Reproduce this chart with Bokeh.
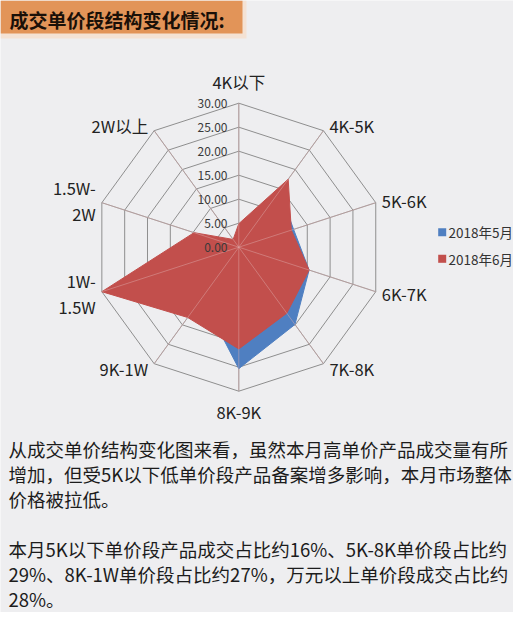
import numpy as np
from bokeh.plotting import figure
from bokeh.models import Range1d
from bokeh.core.properties import value
from bokeh.embed import file_html
from bokeh.resources import INLINE

# data
categories = ["4K以下", "4K-5K", "5K-6K", "6K-7K", "7K-8K",
              "8K-9K", "9K-1W", "1W-1.5W", "1.5W-2W", "2W以上"]
cat_labels = ["4K以下", "4K-5K", "5K-6K", "6K-7K", "7K-8K",
              "8K-9K", "9K-1W", "1W-\n1.5W", "1.5W-\n2W", "2W以上"]
may_2018 = [3.5, 14.5, 12.0, 15.4, 19.9, 25.3, 13.0, 27.0, 8.0, 1.5]
june_2018 = [4.9, 17.5, 11.5, 15.4, 17.0, 21.2, 18.1, 30.0, 9.8, 2.0]
ticks = [0, 5, 10, 15, 20, 25, 30]
series_names = ["2018年5月", "2018年6月"]

title = "成交单价段结构变化情况:"
body_lines = [
    "从成交单价结构变化图来看，虽然本月高单价产品成交量有所",
    "增加，但受5K以下低单价段产品备案增多影响，本月市场整体",
    "价格被拉低。",
    "本月5K以下单价段产品成交占比约16%、5K-8K单价段占比约",
    "29%、8K-1W单价段占比约27%，万元以上单价段成交占比约",
    "28%。",
]

FONT = value("Noto Sans CJK SC")
BG = "#EEEEF0"
BLUE = "#4F7FC1"
RED = "#C24F4C"

# radar geometry (pixels)
CX, CY = 238.3, 246.7
S = 4.8  # px per unit
RMAX = ticks[-1]

p = figure(width=513, height=612, x_range=Range1d(0, 513), y_range=Range1d(612, 0),
           output_backend="svg", toolbar_location=None, min_border=0)
p.axis.visible = False
p.grid.visible = False
p.outline_line_color = None
p.background_fill_color = BG
p.border_fill_color = BG

# header bar
p.quad(left=0, right=246, top=0, bottom=38, fill_color="#F4E2D4", line_color=None)
p.quad(left=0, right=242, top=0, bottom=33, fill_color="#E29458", line_color=None)
p.text(x=[9], y=[18.5], text=[title], text_font=FONT, text_font_size="19px",
       text_font_style="bold", text_color="#1A1008", text_baseline="middle")

n = len(categories)
theta = np.arange(n) * 2 * np.pi / n


def to_xy(vals):
    r = np.asarray(vals, dtype=float) * S
    return CX + r * np.sin(theta), CY - r * np.cos(theta)


# rings and spokes
for t in ticks[1:]:
    rx, ry = to_xy([t] * n)
    p.line(list(rx) + [rx[0]], list(ry) + [ry[0]], line_color="#8E8E8E", line_width=1)
ox, oy = to_xy([RMAX] * n)
p.segment(x0=[CX] * n, y0=[CY] * n, x1=ox, y1=oy, line_color="#8E8E8E", line_width=1)

# series
bx, by = to_xy(may_2018)
p.patch(bx, by, fill_color=BLUE, line_color=BLUE, line_width=1)
rx, ry = to_xy(june_2018)
p.patch(rx, ry, fill_color=RED, line_color=RED, line_width=1)

# spokes showing through the fill
p.segment(x0=[CX] * n, y0=[CY] * n, x1=ox, y1=oy, line_color="#E0B0B0", line_alpha=0.45, line_width=1)

# tick labels
p.text(x=[227] * len(ticks), y=[CY - t * S for t in ticks], text=[f"{t:.2f}" for t in ticks],
       text_font=FONT, text_font_size="12px", text_color="#3A3A3A",
       text_align="right", text_baseline="middle")

# category labels
for i, lab in enumerate(cat_labels):
    s, c = np.sin(theta[i]), np.cos(theta[i])
    if abs(s) < 1e-6:
        lx, ly, align = ox[i], oy[i] - 21 * c, "center"
    else:
        lx, ly = ox[i] + 6 * np.sign(s), oy[i] - 6 * c
        align = "left" if s > 0 else "right"
    lines = lab.split("\n")
    for k, ln in enumerate(lines):
        dy = (k - (len(lines) - 1) / 2) * 26
        p.text(x=[lx], y=[ly + dy], text=[ln], text_font=FONT, text_font_size="16.5px",
               text_color="#222222", text_align=align, text_baseline="middle")

# legend
p.scatter(x=[441.7, 441.7], y=[231.7, 258.3], marker="square", size=8,
          fill_color=[BLUE, RED], line_color=None)
p.text(x=[448, 448], y=[231.7, 258.3], text=series_names, text_font=FONT,
       text_font_size="13.5px", text_color="#333333", text_baseline="middle")

# body text (slightly compressed so the last line stays inside)
body_y = [448, 473, 498, 548, 573, 598]
p.text(x=[8] * len(body_lines), y=body_y, text=body_lines, text_font=FONT,
       text_font_size="18.5px", text_color="#1C1C1C", text_baseline="middle")

open("out.html", "w").write(file_html(p, INLINE))
